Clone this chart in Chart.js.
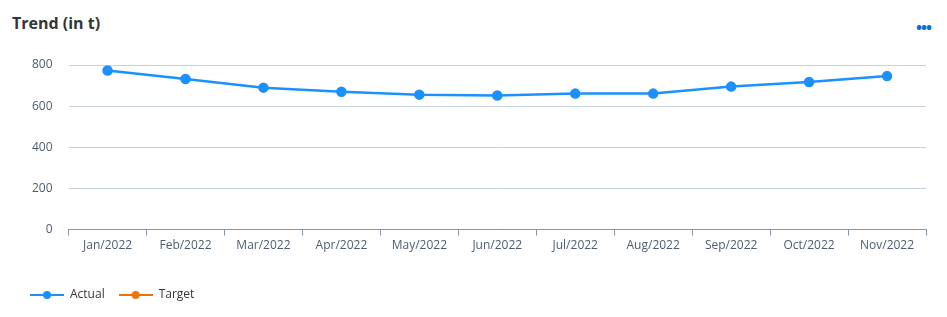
<!DOCTYPE html>
<html>
<head>
<meta charset="utf-8">
<script src="https://cdn.jsdelivr.net/npm/chart.js@4"></script>
<style>
  html, body { margin:0; padding:0; background:#fff; }
  #wrap { position:relative; width:947px; height:317px; font-family:'Open Sans', 'Liberation Sans', sans-serif; }
  #title { position:absolute; left:12px; top:12px; font-size:16px; font-weight:bold; color:#32363a; }
  #more { position:absolute; left:916px; top:16px; font-size:16px; font-weight:bold; color:#0a6ed1; letter-spacing:-1px; }
  canvas { position:absolute; left:0; top:0; }
</style>
</head>
<body>
<div id="wrap">
  <div id="title">Trend (in t)</div>
  <div id="more">•••</div>
  <canvas id="trend-chart" width="947" height="317"></canvas>
</div>
<script>
'use strict';

// ── Data ──
const months  = ['Jan/2022','Feb/2022','Mar/2022','Apr/2022','May/2022','Jun/2022',
                 'Jul/2022','Aug/2022','Sep/2022','Oct/2022','Nov/2022'];
const actual  = [773, 732, 690, 670, 656, 652, 661, 661, 695, 717, 746];
const target  = [];
const yTicks  = [0, 200, 400, 600, 800];

const BLUE   = '#1b90ff';
const ORANGE = '#e9730c';
const FONT   = "'Open Sans', 'Liberation Sans', sans-serif";

// legend marker: short line with a dot in the middle
function legendMarker(color) {
  const c = document.createElement('canvas');
  c.width = 34; c.height = 10;
  const g = c.getContext('2d');
  g.strokeStyle = color; g.lineWidth = 2;
  g.beginPath(); g.moveTo(0, 5); g.lineTo(34, 5); g.stroke();
  g.fillStyle = color;
  g.beginPath(); g.arc(17, 5, 4, 0, Math.PI * 2); g.fill();
  return c;
}

const ctx = document.getElementById('trend-chart').getContext('2d');

new Chart(ctx, {
  type: 'line',
  data: {
    labels: months,
    datasets: [
      {
        label: 'Actual',
        data: actual,
        borderColor: BLUE,
        backgroundColor: BLUE,
        borderWidth: 2.5,
        pointRadius: 4,
        pointHoverRadius: 5,
        tension: 0,
      },
      {
        label: 'Target',
        data: target,
        borderColor: ORANGE,
        backgroundColor: ORANGE,
        borderWidth: 2.5,
        pointRadius: 4,
      }
    ]
  },
  options: {
    responsive: false,
    animation: false,
    layout: { padding: { top: 65, right: 21, left: 16, bottom: 6 } },
    plugins: {
      title: { display: false },
      tooltip: { enabled: false },
      legend: {
        position: 'bottom',
        align: 'start',
        labels: {
          color: '#32363a',
          font: { family: FONT, size: 12 },
          padding: 14,
          usePointStyle: true,
          pointStyleWidth: 34,
          boxHeight: 10,
          generateLabels(chart) {
            return chart.data.datasets.map((ds, i) => ({
              text: ds.label,
              fontColor: '#32363a',
              pointStyle: legendMarker(ds.borderColor),
              datasetIndex: i,
              hidden: false,
              lineWidth: 0,
            }));
          }
        }
      }
    },
    scales: {
      x: {
        offset: true,
        border: { color: '#8696a9', width: 1 },
        grid: { display: true, drawOnChartArea: false, drawTicks: true, tickLength: 6, color: '#8696a9', offset: true },
        ticks: { color: '#4d5d70', font: { family: FONT, size: 12 }, maxRotation: 0, padding: 3 },
        afterFit(scale) { scale.height += 19; },
      },
      y: {
        min: 0,
        max: 800,
        afterBuildTicks(axis) { axis.ticks = yTicks.map(v => ({ value: v })); },
        border: { display: false },
        grid: { color: '#c9d1d9', drawTicks: false, lineWidth: 1 },
        ticks: { color: '#4d5d70', font: { family: FONT, size: 12 }, padding: 16 },
      }
    }
  }
});
</script>
</body>
</html>
